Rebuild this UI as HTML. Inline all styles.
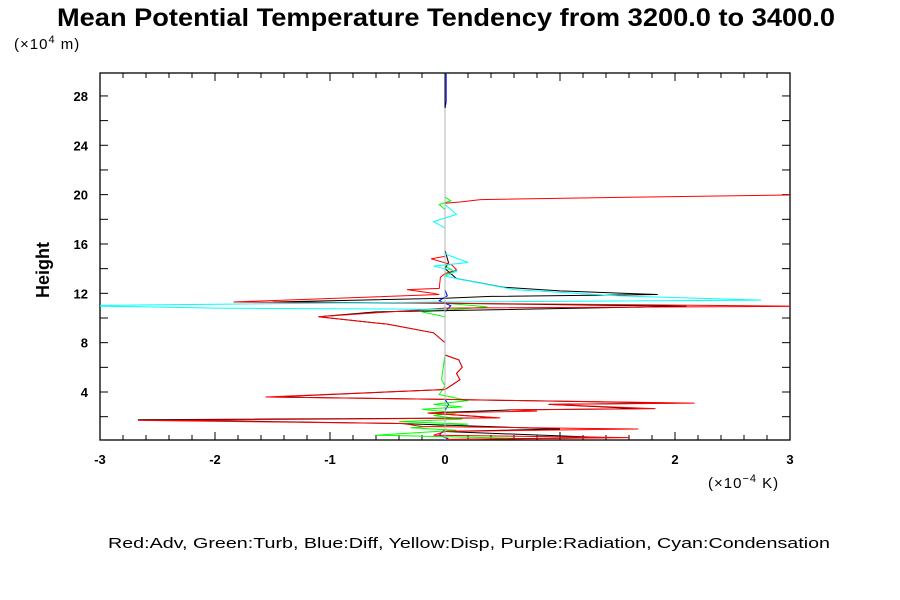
<!DOCTYPE html>
<html><head><meta charset="utf-8"><style>
body{margin:0;background:#fff;width:900px;height:600px;overflow:hidden}
svg{display:block;font-family:"Liberation Sans",sans-serif}
</style></head><body>
<svg id="chart" width="900" height="600">
<text x="57" y="26" font-size="25" font-weight="bold" textLength="778" lengthAdjust="spacingAndGlyphs">Mean Potential Temperature Tendency from 3200.0 to 3400.0</text>
<text x="14" y="49" font-size="15" letter-spacing="1">(×10<tspan dy="-6" font-size="11">4</tspan><tspan dy="6"> m)</tspan></text>
<text x="49" y="270" font-size="18" font-weight="bold" text-anchor="middle" transform="rotate(-90 49 270)">Height</text>
<text x="708" y="488" font-size="15" letter-spacing="1">(×10<tspan dy="-6" font-size="11">−4</tspan><tspan dy="6"> K)</tspan></text>
<text x="108" y="548" font-size="15" textLength="722" lengthAdjust="spacingAndGlyphs">Red:Adv, Green:Turb, Blue:Diff, Yellow:Disp, Purple:Radiation, Cyan:Condensation</text>
<g id="axes"></g>
<g id="series"></g>
</svg>
<script>
const xTicks=[-3,-2,-1,0,1,2,3];
const yTicks=[4,8,12,16,20,24,28];
const red=[[3.2,20.0],[1.68,19.8],[0.31,19.6],[0.13,19.4],[0,19.3],[0,15.0],[-0.12,14.8],[0.06,14.3],[0.1,13.9],[0,13.6],[-0.04,13.3],[-0.05,12.4],[-0.33,12.3],[-0.1,12.0],[-0.05,11.9],[-1.84,11.3],[0,11.2],[3.2,10.95],[0,10.8],[-1.1,10.1],[-0.9,9.9],[-0.5,9.5],[-0.1,8.8],[0,8.0],[0,7.0],[0.12,6.6],[0.15,6.0],[0.1,5.5],[0.13,5.0],[0.05,4.5],[0,4.2],[-1.56,3.6],[0,3.4],[2.17,3.1],[0.9,3.0],[1.83,2.65],[0.57,2.55],[0.8,2.45],[-0.15,2.3],[0.48,1.9],[-2.67,1.7],[-0.37,1.45],[-0.2,1.2],[1.68,1.0],[0,0.8],[-0.1,0.5],[1.6,0.3],[0,0.15]];
const black=[[0,29.8],[0,15.5],[0.03,14.5],[0,14.0],[0.05,13.6],[0.1,13.2],[0.5,12.5],[1.0,12.2],[1.85,11.9],[0.4,11.75],[0,11.6],[-1.5,11.3],[0,11.2],[2.1,10.95],[-0.6,10.5],[-1.1,10.1],[-0.9,9.9],[-0.5,9.5],[-0.1,8.8],[0,8.0],[0,7.0],[0.12,6.6],[0.15,6.0],[0.1,5.5],[0.13,5.0],[0.05,4.5],[0,4.2],[-1.5,3.6],[0,3.4],[2.0,3.1],[0.9,3.0],[1.7,2.65],[0.57,2.55],[-0.15,2.3],[0.45,1.9],[-2.67,1.75],[-0.4,1.45],[1.0,1.0],[0,0.8],[1.4,0.3],[0,0.15]];
const cyan=[[0,27.0],[0,19.2],[0.1,18.4],[-0.1,17.8],[0,17.3],[0,15.2],[0.2,14.5],[-0.1,14.2],[0.1,13.8],[0,13.4],[0.1,13.2],[0.6,12.3],[1.5,11.8],[2.75,11.45],[0,11.3],[-3.2,11.0],[-2.0,10.8],[0,10.7],[0,0.1]];
const green=[[0,27.0],[0,19.8],[0.05,19.5],[-0.05,19.2],[0,18.8],[0,14.2],[0.08,13.8],[0,13.5],[0,11.2],[0.37,10.9],[0.1,10.7],[-0.2,10.5],[0,10.1],[0,9.6],[0,7],[-0.03,5],[0,4.5],[-0.05,3.8],[0.2,3.3],[-0.1,3.0],[0.15,2.8],[-0.2,2.6],[0.1,2.3],[-0.1,2.1],[0.15,1.8],[-0.4,1.6],[0.2,1.4],[-0.3,1.1],[0.1,0.9],[-0.6,0.5],[0.6,0.25],[0,0.1]];
const blue=[[0.01,29.8],[0.01,27.5],[0,27.0],[0,12.3],[0.02,11.8],[-0.05,11.4],[0.05,11.0],[0,10.5],[0,3.4],[0.03,3.0],[0,2.5],[0,1.0],[-0.05,0.5],[0.03,0.2]];
const X0=100,X1=790,Y0=73,Y1=440,ymin=0.11,ymax=29.86;
const sx=v=>X0+(v+3)/6*(X1-X0);
const sy=h=>Y1-(h-ymin)/(ymax-ymin)*(Y1-Y0);
const NS="http://www.w3.org/2000/svg";
const axes=document.getElementById('axes'),ser=document.getElementById('series');
function mk(tag,at,par){const e=document.createElementNS(NS,tag);for(const k in at)e.setAttribute(k,at[k]);par.appendChild(e);return e;}
const cp=mk('clipPath',{id:'cp'},axes);mk('rect',{x:X0,y:Y0,width:X1-X0,height:Y1-Y0},cp);
const frame=mk('rect',{x:X0,y:Y0,width:X1-X0,height:Y1-Y0,fill:'none',stroke:'#000','stroke-width':1.3},axes);


for(let i=0;i<=30;i++){const v=-3+i*0.2,x=sx(v),L=(i%5==0)?8:5;
mk('line',{x1:x,x2:x,y1:Y1,y2:Y1-L,stroke:'#000'},axes);mk('line',{x1:x,x2:x,y1:Y0,y2:Y0+L,stroke:'#000'},axes);}
for(let h=2;h<=28;h+=2){const y=sy(h);
mk('line',{x1:X0,x2:X0+8,y1:y,y2:y,stroke:'#000'},axes);mk('line',{x1:X1,x2:X1-8,y1:y,y2:y,stroke:'#000'},axes);}
xTicks.forEach(v=>{const t=mk('text',{x:sx(v),y:Y1+24,'text-anchor':'middle','font-size':13,'font-weight':'bold'},axes);t.textContent=v;

});
yTicks.forEach(h=>{const t=mk('text',{x:X0-12,y:sy(h)+5,'text-anchor':'end','font-size':13,'font-weight':'bold'},axes);t.textContent=h;

});
const g=mk('g',{'clip-path':'url(#cp)'},ser);
function line(d,c,n,w){const p=mk('polyline',{points:d.map(q=>sx(q[0])+','+sy(q[1])).join(' '),fill:'none',stroke:c,'stroke-width':w},g);

}
line(blue,'#0000ff','diff-line',1);
line(green,'#00ff00','turb-line',1);
line(black,'#000000','total-line',1);
line(red,'#ff0000','adv-line',1);
line(cyan,'#00ffff','condensation-line',1);
const zl=mk('line',{x1:sx(0),x2:sx(0),y1:sy(27),y2:Y1,stroke:'#b4b4b4','stroke-width':1},g);


</script>
</body></html>
